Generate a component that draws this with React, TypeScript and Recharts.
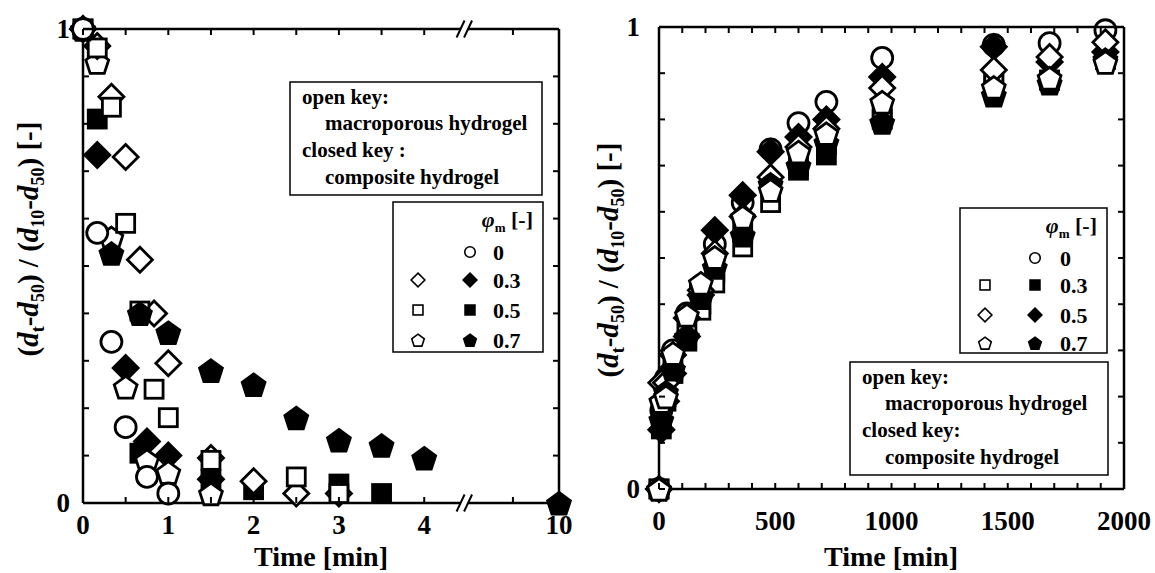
import React from "react";
import { ScatterChart, Scatter, XAxis, YAxis } from "recharts";

const FONT = '"Liberation Serif", "Times New Roman", Times, serif';

// ---------- left panel: time [min], axis broken between 4 and 9 ----------
const L_T_CIRCLE = [0, 0.167, 0.333, 0.5, 0.75, 1];
const L_CIRCLE = [1, 0.57, 0.34, 0.16, 0.055, 0.02];

const L_T_DIAMOND_OPEN = [0, 0.167, 0.333, 0.5, 0.667, 0.833, 1, 1.5, 2, 2.5, 3];
const L_DIAMOND_OPEN = [1, 0.964, 0.857, 0.73, 0.513, 0.4, 0.295, 0.095, 0.046, 0.02, 0.02];

const L_T_DIAMOND_FILLED = [0, 0.167, 0.5, 0.75, 1, 1.5];
const L_DIAMOND_FILLED = [1, 0.734, 0.285, 0.13, 0.1, 0.05];

const L_T_SQUARE_OPEN = [0, 0.167, 0.333, 0.5, 0.667, 0.833, 1, 1.5, 2.5, 3];
const L_SQUARE_OPEN = [1, 0.96, 0.835, 0.59, 0.405, 0.24, 0.18, 0.09, 0.055, 0.02];

const L_T_SQUARE_FILLED = [0, 0.167, 0.667, 1.5, 2, 3, 3.5];
const L_SQUARE_FILLED = [1, 0.81, 0.105, 0.05, 0.028, 0.04, 0.02];

const L_T_PENT_OPEN = [0, 0.167, 0.333, 0.5, 0.75, 1, 1.5];
const L_PENT_OPEN = [1, 0.93, 0.56, 0.245, 0.09, 0.065, 0.02];

const L_T_PENT_FILLED = [0, 0.333, 0.667, 1, 1.5, 2, 2.5, 3, 3.5, 4, 10];
const L_PENT_FILLED = [1, 0.527, 0.4, 0.36, 0.28, 0.25, 0.18, 0.133, 0.122, 0.095, 0];

const L_X_TICKS = [0, 0.5, 1, 1.5, 2, 2.5, 3, 3.5, 4, 9.5, 10];
const L_X_LABELED = [0, 1, 2, 3, 4, 10];

// ---------- right panel: time [min] ----------
const R_T = [0, 10, 30, 60, 120, 180, 240, 360, 480, 600, 720, 960, 1440, 1680, 1920];
const R_CIRCLE = [0, 0.17, 0.24, 0.3, 0.38, 0.44, 0.53, 0.62, 0.735, 0.792, 0.838, 0.933, 0.961, 0.965, 0.993];
const R_SQUARE_OPEN = [0, 0.15, 0.2, 0.26, 0.35, 0.387, 0.446, 0.524, 0.62, 0.7, 0.745, 0.82, 0.88, 0.885, 0.93];
const R_SQUARE_FILLED = [0, 0.13, 0.19, 0.25, 0.32, 0.4, 0.47, 0.555, 0.66, 0.69, 0.723, 0.8, 0.875, 0.885, 0.93];
const R_DIAMOND_OPEN = [0, 0.23, 0.23, 0.29, 0.37, 0.43, 0.51, 0.59, 0.675, 0.74, 0.78, 0.868, 0.907, 0.935, 0.967];
const R_DIAMOND_FILLED = [0, 0.128, 0.19, 0.25, 0.33, 0.42, 0.56, 0.636, 0.73, 0.762, 0.8, 0.892, 0.957, 0.924, 0.946];
const R_PENT_OPEN = [0, 0.19, 0.2, 0.294, 0.377, 0.446, 0.502, 0.589, 0.647, 0.73, 0.77, 0.838, 0.87, 0.89, 0.924];
const R_PENT_FILLED = [0, 0.15, 0.21, 0.26, 0.33, 0.415, 0.48, 0.55, 0.66, 0.7, 0.75, 0.794, 0.853, 0.879, 0.93];

const R_X_TICKS = [0, 100, 200, 300, 400, 500, 600, 700, 800, 900, 1000, 1100, 1200, 1300, 1400, 1500, 1600, 1700, 1800, 1900, 2000];
const Y_TICKS = [0, 0.1, 0.2, 0.3, 0.4, 0.5, 0.6, 0.7, 0.8, 0.9, 1];

// legend keys
const KEY_LABELS = ["0", "0.3", "0.5", "0.7"];
const LEFT_KEY_SHAPES = ["circle", "diamond", "square", "pentagon"];
const RIGHT_KEY_SHAPES = ["circle", "square", "diamond", "pentagon"];

// broken axis mapping (left panel)
const BREAK_AT = 4.47;
const toAxis = (t: number) => (t <= 4 ? t : 5.58 - (10 - t) * 1.08);
const L_X_MAX = toAxis(10);

const L_PLOT_W = 476;
const L_PLOT_H = 474;
const R_PLOT_W = 465;
const R_PLOT_H = 462;

function Glyph({ cx, cy, kind, filled, s = 1, sw = 2.8 }: any) {
  const fill = filled ? "#000" : "#fff";
  const common = { fill, stroke: "#000", strokeWidth: sw, strokeLinejoin: "miter" as const };
  if (kind === "circle") return <circle cx={cx} cy={cy} r={10.5 * s} {...common} />;
  if (kind === "square") {
    const h = 9 * s;
    return <rect x={cx - h} y={cy - h} width={2 * h} height={2 * h} {...common} />;
  }
  if (kind === "diamond") {
    const d = 12.5 * s;
    return <polygon points={`${cx},${cy - d} ${cx + d},${cy} ${cx},${cy + d} ${cx - d},${cy}`} {...common} />;
  }
  const r = 12 * s;
  const pts = [0, 1, 2, 3, 4]
    .map((k) => {
      const a = ((-90 + 72 * k) * Math.PI) / 180;
      return `${cx + r * Math.cos(a)},${cy + 1.5 * s + r * Math.sin(a)}`;
    })
    .join(" ");
  return <polygon points={pts} {...common} />;
}

function BreakMark({ x, y }: { x: number; y: number }) {
  const dx = 4, h = 8.5, gap = 7.5;
  const a = x - gap / 2;
  const b = x + gap / 2;
  return (
    <g>
      <polygon points={`${a - dx},${y + h} ${a + dx},${y - h} ${b + dx},${y - h} ${b - dx},${y + h}`} fill="#fff" />
      <line x1={a - dx} y1={y + h} x2={a + dx} y2={y - h} stroke="#000" strokeWidth={2} />
      <line x1={b - dx} y1={y + h} x2={b + dx} y2={y - h} stroke="#000" strokeWidth={2} />
    </g>
  );
}

const near = (a: number, b: number) => Math.abs(a - b) < 1e-6;

function makeXTick(plotW: number, plotH: number, labelFor: (v: number) => string | null, labelDy: number, breakAt?: number) {
  return (props: any) => {
    const { x, y, payload, index } = props;
    const v = payload.value;
    const top = y - plotH;
    return (
      <g>
        {index === 0 && <line x1={x} x2={x + plotW} y1={top} y2={top} stroke="#000" strokeWidth={2.5} />}
        {breakAt !== undefined && near(v, breakAt) ? (
          <>
            <BreakMark x={x} y={y} />
            <BreakMark x={x} y={top} />
          </>
        ) : (
          <>
            <line x1={x} x2={x} y1={y} y2={y - 6} stroke="#000" strokeWidth={2} />
            <line x1={x} x2={x} y1={top} y2={top + 6} stroke="#000" strokeWidth={2} />
            {labelFor(v) !== null && (
              <text x={x} y={y + labelDy} textAnchor="middle" fontSize={27} fontWeight="bold" fontFamily={FONT} fill="#000">
                {labelFor(v)}
              </text>
            )}
          </>
        )}
      </g>
    );
  };
}

function makeYTick(plotW: number, plotH: number, gap: number) {
  return (props: any) => {
    const { x, y, payload, index } = props;
    const v = payload.value;
    const right = x + plotW;
    const label = near(v, 0) ? "0" : near(v, 1) ? "1" : null;
    return (
      <g>
        {index === 0 && <line x1={right} x2={right} y1={y} y2={y - plotH} stroke="#000" strokeWidth={2.5} />}
        <line x1={x} x2={x + 6} y1={y} y2={y} stroke="#000" strokeWidth={2} />
        <line x1={right} x2={right - 6} y1={y} y2={y} stroke="#000" strokeWidth={2} />
        {label && (
          <text x={x - gap} y={y + 9} textAnchor="end" fontSize={27} fontWeight="bold" fontFamily={FONT} fill="#000">
            {label}
          </text>
        )}
      </g>
    );
  };
}

const leftXTick = makeXTick(
  L_PLOT_W,
  L_PLOT_H,
  (v) => {
    const t = L_X_LABELED.find((l) => near(toAxis(l), v));
    return t === undefined ? null : String(t);
  },
  31,
  BREAK_AT
);
const rightXTick = makeXTick(R_PLOT_W, R_PLOT_H, (v) => (v % 500 === 0 ? String(v) : null), 41);
const leftYTick = makeYTick(L_PLOT_W, L_PLOT_H, 13);
const rightYTick = makeYTick(R_PLOT_W, R_PLOT_H, 19);

const zip = (ts: number[], vs: number[], f: (t: number) => number = (t) => t) => ts.map((t, i) => ({ x: f(t), y: vs[i] }));

const leftSeries = [
  { kind: "square", filled: true, data: zip(L_T_SQUARE_FILLED, L_SQUARE_FILLED, toAxis) },
  { kind: "diamond", filled: true, data: zip(L_T_DIAMOND_FILLED, L_DIAMOND_FILLED, toAxis) },
  { kind: "pentagon", filled: false, data: zip(L_T_PENT_OPEN, L_PENT_OPEN, toAxis) },
  { kind: "diamond", filled: false, data: zip(L_T_DIAMOND_OPEN, L_DIAMOND_OPEN, toAxis) },
  { kind: "square", filled: false, data: zip(L_T_SQUARE_OPEN, L_SQUARE_OPEN, toAxis) },
  { kind: "pentagon", filled: true, data: zip(L_T_PENT_FILLED, L_PENT_FILLED, toAxis) },
  { kind: "circle", filled: false, data: zip(L_T_CIRCLE, L_CIRCLE, toAxis) },
];

const rightSeries = [
  { kind: "circle", filled: false, data: zip(R_T, R_CIRCLE) },
  { kind: "square", filled: true, data: zip(R_T, R_SQUARE_FILLED) },
  { kind: "square", filled: false, data: zip(R_T, R_SQUARE_OPEN) },
  { kind: "diamond", filled: true, data: zip(R_T, R_DIAMOND_FILLED) },
  { kind: "diamond", filled: false, data: zip(R_T, R_DIAMOND_OPEN) },
  { kind: "pentagon", filled: true, data: zip(R_T, R_PENT_FILLED) },
  { kind: "pentagon", filled: false, data: zip(R_T, R_PENT_OPEN) },
];

function YTitle({ x, y }: { x: number; y: number }) {
  return (
    <text transform={`rotate(-90 ${x} ${y})`} x={x} y={y} textAnchor="middle" fontSize={29} fontWeight="bold" fontFamily={FONT}>
      (<tspan fontStyle="italic">d</tspan>
      <tspan fontSize={18} dy={6}>t</tspan>
      <tspan dy={-6}>-</tspan>
      <tspan fontStyle="italic">d</tspan>
      <tspan fontSize={18} dy={6}>50</tspan>
      <tspan dy={-6}>{") / ("}</tspan>
      <tspan fontStyle="italic">d</tspan>
      <tspan fontSize={18} dy={6}>10</tspan>
      <tspan dy={-6}>-</tspan>
      <tspan fontStyle="italic">d</tspan>
      <tspan fontSize={18} dy={6}>50</tspan>
      <tspan dy={-6}>{") [-]"}</tspan>
    </text>
  );
}

function TextKey({ x, y, w, h, lines }: { x: number; y: number; w: number; h: number; lines: string[] }) {
  const rows = [0, 26, 53, 80];
  return (
    <g>
      <rect x={x} y={y} width={w} height={h} fill="#fff" stroke="#000" strokeWidth={1.5} />
      {lines.map((l, i) => (
        <text key={i} x={x + (i % 2 === 0 ? 12 : 35)} y={y + 22 + rows[i]} fontSize={21} fontWeight="bold" fontFamily={FONT}>
          {l}
        </text>
      ))}
    </g>
  );
}

function SymbolKey({ x, y, w, h, shapes, openX, fillX, textX, headerEnd, rowY }: any) {
  return (
    <g>
      <rect x={x} y={y} width={w} height={h} fill="#fff" stroke="#000" strokeWidth={1.5} />
      <text x={headerEnd} y={y + 25} textAnchor="end" fontSize={22} fontWeight="bold" fontFamily={FONT}>
        <tspan fontStyle="italic">φ</tspan>
        <tspan fontSize={13} dy={5}>m</tspan>
        <tspan dy={-5}>{" [-]"}</tspan>
      </text>
      {KEY_LABELS.map((lab, i) => {
        const cy = rowY[i];
        const kind = shapes[i];
        return (
          <g key={lab}>
            {i === 0 ? (
              <Glyph cx={fillX} cy={cy} kind={kind} filled={false} s={0.5} sw={1.6} />
            ) : (
              <>
                <Glyph cx={openX} cy={cy} kind={kind} filled={false} s={0.55} sw={1.6} />
                <Glyph cx={fillX} cy={cy} kind={kind} filled={true} s={0.55} sw={1.6} />
              </>
            )}
            <text x={textX} y={cy + 8} fontSize={22} fontWeight="bold" fontFamily={FONT}>
              {lab}
            </text>
          </g>
        );
      })}
    </g>
  );
}

function renderShape(kind: string, filled: boolean) {
  return (p: any) => <Glyph cx={p.cx} cy={p.cy} kind={kind} filled={filled} />;
}

export default function App() {
  return (
    <div style={{ position: "absolute", left: 0, top: 0, width: 1155, height: 573, background: "#fff" }}>
      <div style={{ position: "absolute", left: 0, top: 0 }}>
        <ScatterChart width={580} height={573} margin={{ top: 29, right: 21, bottom: 69, left: 82 }}>
          <XAxis
            type="number"
            dataKey="x"
            domain={[0, L_X_MAX]}
            ticks={[...L_X_TICKS.map(toAxis), BREAK_AT].sort((a, b) => a - b)}
            interval={0}
            height={1}
            tickSize={0}
            tickMargin={0}
            tickLine={false}
            axisLine={{ stroke: "#000", strokeWidth: 2.5 }}
            tick={leftXTick}
          />
          <YAxis
            type="number"
            dataKey="y"
            domain={[0, 1]}
            ticks={Y_TICKS}
            interval={0}
            width={1}
            tickSize={0}
            tickMargin={0}
            tickLine={false}
            axisLine={{ stroke: "#000", strokeWidth: 2.5 }}
            tick={leftYTick}
          />
          {leftSeries.map((s, i) => (
            <Scatter key={i} data={s.data} shape={renderShape(s.kind, s.filled)} isAnimationActive={false} />
          ))}
        </ScatterChart>
      </div>
      <div style={{ position: "absolute", left: 580, top: 0 }}>
        <ScatterChart width={575} height={573} margin={{ top: 27, right: 31, bottom: 83, left: 78 }}>
          <XAxis
            type="number"
            dataKey="x"
            domain={[0, 2000]}
            ticks={R_X_TICKS}
            interval={0}
            height={1}
            tickSize={0}
            tickMargin={0}
            tickLine={false}
            axisLine={{ stroke: "#000", strokeWidth: 2.5 }}
            tick={rightXTick}
          />
          <YAxis
            type="number"
            dataKey="y"
            domain={[0, 1]}
            ticks={Y_TICKS}
            interval={0}
            width={1}
            tickSize={0}
            tickMargin={0}
            tickLine={false}
            axisLine={{ stroke: "#000", strokeWidth: 2.5 }}
            tick={rightYTick}
          />
          {rightSeries.map((s, i) => (
            <Scatter key={i} data={s.data} shape={renderShape(s.kind, s.filled)} isAnimationActive={false} />
          ))}
        </ScatterChart>
      </div>
      <svg width={1155} height={573} style={{ position: "absolute", left: 0, top: 0, pointerEvents: "none" }}>
        <text x={321} y={566} textAnchor="middle" fontSize={28} fontWeight="bold" fontFamily={FONT}>
          Time [min]
        </text>
        <text x={891} y={566} textAnchor="middle" fontSize={28} fontWeight="bold" fontFamily={FONT}>
          Time [min]
        </text>
        <YTitle x={38} y={239} />
        <YTitle x={618} y={260} />
        <TextKey x={290} y={82} w={252} h={113} lines={["open key:", "macroporous hydrogel", "closed key :", "composite hydrogel"]} />
        <SymbolKey x={393} y={202} w={150} h={150} shapes={LEFT_KEY_SHAPES} openX={418} fillX={470} textX={493} headerEnd={533} rowY={[252, 280, 310, 340]} />
        <SymbolKey x={960} y={208} w={147} h={145} shapes={RIGHT_KEY_SHAPES} openX={985} fillX={1035} textX={1060} headerEnd={1097} rowY={[258, 285, 315, 343]} />
        <TextKey x={850} y={362} w={258} h={113} lines={["open key:", "macroporous hydrogel", "closed key:", "composite hydrogel"]} />
      </svg>
    </div>
  );
}
